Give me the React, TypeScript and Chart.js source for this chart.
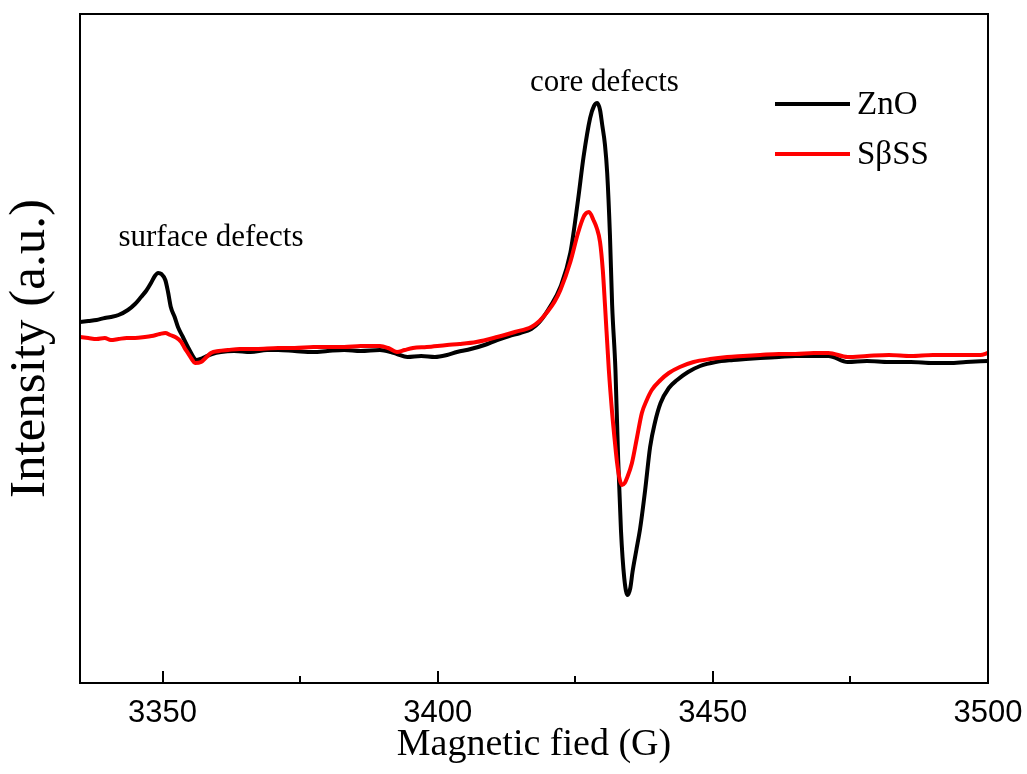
import React, { useEffect, useRef } from "react";
import { Chart, registerables } from "chart.js";

Chart.register(...registerables);

// ---- data (magnetic field in G, intensity in arbitrary units) ----
const fieldZnO = [
  3335.0, 3336.5, 3338.0, 3339.5, 3340.6, 3342.0, 3343.7, 3345.0, 3346.1, 3347.0,
  3347.9, 3348.6, 3349.2, 3349.8, 3350.5, 3351.0, 3351.5, 3352.2, 3352.8, 3353.7,
  3354.6, 3355.4, 3356.1, 3356.9, 3357.7, 3359.0, 3360.6, 3363.0, 3366.0, 3369.0,
  3371.0, 3374.0, 3377.4, 3380.0, 3383.0, 3386.0, 3389.5, 3391.5, 3392.6, 3394.5,
  3397.0, 3399.5, 3401.7, 3403.5, 3406.0, 3408.5, 3410.8, 3413.0, 3415.0, 3417.0,
  3418.5, 3420.5, 3422.3, 3424.1, 3425.5, 3426.5, 3427.7, 3428.4, 3429.0, 3429.5,
  3429.9, 3430.4, 3430.8, 3431.3, 3431.7, 3432.3, 3432.8, 3433.3, 3433.9, 3434.5,
  3435.0, 3435.4, 3436.1, 3436.8, 3437.7, 3438.6, 3439.5, 3440.5, 3442.0, 3443.5,
  3445.5, 3447.7, 3450.5, 3453.7, 3456.0, 3458.6, 3462.0, 3465.0, 3468.3, 3471.0,
  3474.5, 3478.0, 3482.0, 3486.0, 3490.0, 3493.0, 3496.0, 3500.0,
];
const intensityZnO = [
  28, 29, 30, 32, 33, 35, 40, 46, 53, 59,
  67, 74, 77, 76, 70, 58, 43, 33, 23, 13,
  3, -5, -10, -9, -7, -4, -2, -1, -2, 0,
  0, -1, -2, -1, 0, -1, 0, -2, -4, -7,
  -6, -7, -5, -2, 1, 5, 10, 14, 17, 21,
  28, 44, 63, 97, 150, 193, 232, 244, 247, 240,
  225, 205, 177, 115, 45, -20, -110, -180, -228, -245,
  -238, -222, -200, -178, -140, -97, -72, -53, -38, -30,
  -22, -16, -12, -10, -9, -8, -7, -6, -6, -6,
  -12, -11, -12, -12, -13, -13, -12, -11,
];

const fieldSBSS = [
  3335.0, 3336.5, 3338.0, 3339.5, 3340.6, 3342.0, 3343.5, 3345.0, 3346.8, 3348.0,
  3349.5, 3350.5, 3351.4, 3352.3, 3353.4, 3354.0, 3354.6, 3355.3, 3355.9, 3357.0,
  3358.0, 3358.8, 3360.2, 3361.9, 3364.0, 3367.0, 3371.0, 3374.0, 3377.4, 3380.0,
  3383.0, 3386.0, 3389.5, 3391.0, 3392.6, 3394.0, 3395.5, 3398.0, 3401.7, 3404.0,
  3407.0, 3410.8, 3414.0, 3417.0, 3418.5, 3419.9, 3421.2, 3422.3, 3424.1, 3425.5,
  3426.5, 3427.0, 3427.5, 3428.3, 3428.9, 3429.5, 3430.0, 3430.4, 3431.1, 3431.7,
  3432.2, 3432.6, 3433.1, 3433.5, 3434.0, 3434.4, 3435.3, 3436.2, 3437.1, 3438.0,
  3438.9, 3440.5, 3442.0, 3444.0, 3446.5, 3449.5, 3452.6, 3455.5, 3458.6, 3462.0,
  3465.0, 3468.3, 3471.0, 3474.5, 3478.0, 3482.0, 3486.0, 3490.0, 3494.0, 3498.6,
  3500.0,
];
const intensitySBSS = [
  13, 12, 11, 12, 10, 11, 12, 12, 13, 14,
  16, 17, 15, 13, 8, 2, -3, -9, -13, -12,
  -7, -3, -1, 0, 1, 1, 2, 2, 3, 3,
  3, 4, 4, 2, -2, 0, 2, 3, 5, 6,
  8, 13, 18, 23, 29, 38, 48, 60, 88, 117,
  133, 137, 138, 130, 122, 108, 80, 45, -20, -63,
  -92, -113, -130, -135, -133, -128, -113, -88, -63, -50,
  -40, -30, -23, -17, -12, -9, -7, -6, -5, -4,
  -4, -3, -3, -7, -6, -5, -6, -5, -5, -5,
  -3,
];

const seriesLabels = ["ZnO", "SβSS"];
const seriesColors = ["#000000", "#ff0000"];

const xMin = 3335;
const xMax = 3500;
const yMin = -333;
const yMax = 336;
const majorTicks = [3350, 3400, 3450, 3500];
const minorTicks = [3375, 3425, 3475];

const annotationTexts = ["core defects", "surface defects"];
const annotationFields = [3430.3, 3358.8];
const annotationIntensities = [267, 112];

const SERIF = "'Liberation Serif', 'Times New Roman', serif";
const SANS = "'Liberation Sans', Arial, sans-serif";

const decorPlugin = {
  id: "decor",
  afterDraw(chart: any) {
    const { ctx, chartArea } = chart;
    const xs = chart.scales.x;
    const ys = chart.scales.y;
    ctx.save();
    // frame
    ctx.strokeStyle = "#000";
    ctx.lineWidth = 2;
    ctx.strokeRect(chartArea.left, chartArea.top, chartArea.right - chartArea.left, chartArea.bottom - chartArea.top);
    // minor ticks (inward)
    minorTicks.forEach((v) => {
      const px = Math.round(xs.getPixelForValue(v));
      ctx.beginPath();
      ctx.moveTo(px, chartArea.bottom);
      ctx.lineTo(px, chartArea.bottom - 7);
      ctx.stroke();
    });
    // annotations
    ctx.fillStyle = "#000";
    ctx.font = `31px ${SERIF}`;
    ctx.textAlign = "center";
    ctx.textBaseline = "middle";
    annotationTexts.forEach((t, i) => {
      ctx.fillText(t, xs.getPixelForValue(annotationFields[i]), ys.getPixelForValue(annotationIntensities[i]));
    });
    // legend
    const lx0 = chartArea.left + 695;
    const ly0 = chartArea.top + 90;
    const gap = 50;
    ctx.textAlign = "left";
    ctx.font = `33px ${SERIF}`;
    seriesLabels.forEach((lab, i) => {
      const y = ly0 + i * gap;
      ctx.strokeStyle = seriesColors[i];
      ctx.lineWidth = 4;
      ctx.beginPath();
      ctx.moveTo(lx0, y);
      ctx.lineTo(lx0 + 75, y);
      ctx.stroke();
      ctx.fillStyle = "#000";
      ctx.fillText(lab, lx0 + 82, y + 1);
    });
    ctx.restore();
  },
};

export default function App() {
  const canvasRef = useRef<HTMLCanvasElement | null>(null);

  useEffect(() => {
    const canvas = canvasRef.current;
    if (!canvas) return;
    const chart = new Chart(canvas, {
      type: "line",
      data: {
        datasets: [
          {
            label: seriesLabels[0],
            data: fieldZnO.map((x, i) => ({ x, y: intensityZnO[i] })),
            borderColor: seriesColors[0],
            borderWidth: 4,
            pointRadius: 0,
            fill: false,
            cubicInterpolationMode: "monotone",
            order: 2,
          },
          {
            label: seriesLabels[1],
            data: fieldSBSS.map((x, i) => ({ x, y: intensitySBSS[i] })),
            borderColor: seriesColors[1],
            borderWidth: 4,
            pointRadius: 0,
            fill: false,
            cubicInterpolationMode: "monotone",
            order: 1,
          },
        ],
      },
      options: {
        responsive: false,
        animation: false,
        devicePixelRatio: 1,
        layout: { padding: { top: 14, right: 39, left: 0, bottom: 0 } },
        plugins: {
          legend: { display: false },
          tooltip: { enabled: false },
          title: { display: false },
        },
        scales: {
          x: {
            type: "linear",
            min: xMin,
            max: xMax,
            afterBuildTicks: (scale: any) => {
              scale.ticks = majorTicks.map((v) => ({ value: v }));
            },
            afterFit: (scale: any) => {
              scale.height = 91;
              scale.paddingLeft = 0;
              scale.paddingRight = 0;
            },
            border: { display: false },
            grid: {
              drawOnChartArea: false,
              drawTicks: true,
              tickLength: -12,
              color: "#000",
              lineWidth: 2,
            },
            ticks: {
              color: "#000",
              font: { family: SANS, size: 31 },
              padding: 24,
              maxRotation: 0,
              autoSkip: false,
              callback: (v: any) => String(v),
            },
            title: {
              display: true,
              text: "Magnetic fied (G)",
              color: "#000",
              font: { family: SERIF, size: 38 },
              padding: { top: 0, bottom: 6 },
            },
          },
          y: {
            type: "linear",
            min: yMin,
            max: yMax,
            afterFit: (scale: any) => {
              scale.width = 80;
              scale.paddingTop = 0;
              scale.paddingBottom = 0;
            },
            border: { display: false },
            grid: { display: false },
            ticks: { display: false },
            title: {
              display: true,
              text: "Intensity (a.u.)",
              color: "#000",
              font: { family: SERIF, size: 51 },
              padding: { top: 0, bottom: 0 },
            },
          },
        },
      },
      plugins: [decorPlugin],
    } as any);
    return () => chart.destroy();
  }, []);

  return (
    <div style={{ position: "fixed", left: 0, top: 0, width: 1027, height: 774, background: "#fff" }}>
      <canvas ref={canvasRef} width={1027} height={774} />
    </div>
  );
}
